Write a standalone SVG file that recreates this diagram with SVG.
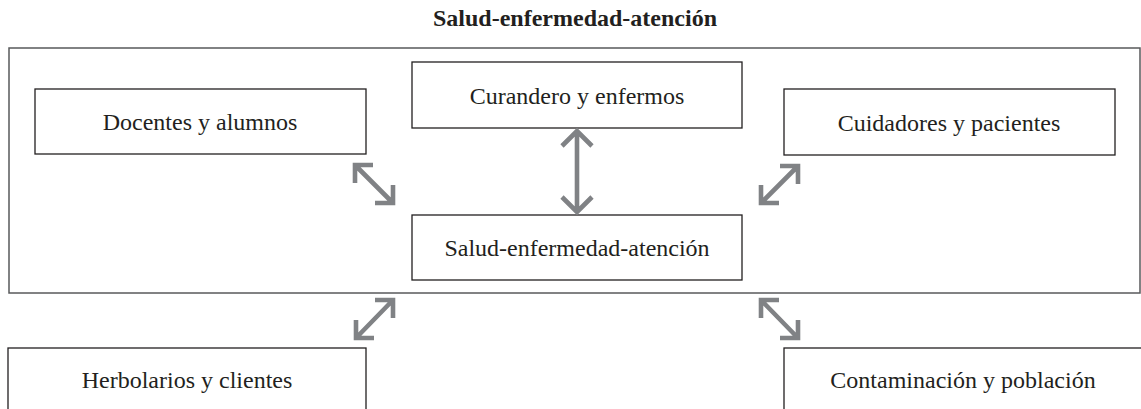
<svg xmlns="http://www.w3.org/2000/svg" width="1141" height="409" viewBox="0 0 1141 409">
<style>
.box{fill:#fff;stroke:#231f20;stroke-width:1.3}
.outer{fill:#fff;stroke:#58595b;stroke-width:1.5}
.lbl{font-family:"Liberation Serif","Times New Roman",serif;font-size:24px;fill:#231f20;text-anchor:middle}
.title{font-family:"Liberation Serif","Times New Roman",serif;font-size:24px;font-weight:bold;fill:#231f20;text-anchor:middle}
.arr{fill:none;stroke:#808285;stroke-width:4.6;stroke-linejoin:miter;stroke-linecap:butt;stroke-miterlimit:10}
</style>
<rect width="1141" height="409" fill="#fff"/>
<text class="title" x="575" y="26">Salud-enfermedad-atención</text>
<g id="frame"><rect class="outer" x="9" y="48" width="1131" height="245"/></g>
<g id="docentes"><rect class="box" x="35" y="89" width="331" height="65"/><text class="lbl" x="200" y="130">Docentes y alumnos</text></g>
<g id="curandero"><rect class="box" x="412" y="62" width="330" height="66"/><text class="lbl" x="577" y="104">Curandero y enfermos</text></g>
<g id="cuidadores"><rect class="box" x="784" y="89" width="331" height="66"/><text class="lbl" x="949" y="131">Cuidadores y pacientes</text></g>
<g id="salud"><rect class="box" x="412" y="215" width="330" height="65"/><text class="lbl" x="577" y="256">Salud-enfermedad-atención</text></g>
<g id="herbolarios"><rect class="box" x="8" y="348" width="358" height="80"/><text class="lbl" x="187" y="388">Herbolarios y clientes</text></g>
<g id="contaminacion"><rect class="box" x="784" y="348" width="380" height="80"/><text class="lbl" x="963" y="388">Contaminación y población</text></g>
<g id="connectors">
<path class="arr" d="M577,131 V212 M562,146 L577,131 L592,146 M562,197 L577,212 L592,197"/>
<path class="arr" d="M355,165 L393,203 M373,165 H355 V183 M375,203 H393 V185"/>
<path class="arr" d="M761,203 L798,166 M761,185 V203 H779 M780,166 H798 V184"/>
<path class="arr" d="M356,338 L393,300 M356,320 V338 H374 M375,300 H393 V318"/>
<path class="arr" d="M761,300 L798,338 M761,318 V300 H779 M780,338 H798 V320"/>
</g>
</svg>
